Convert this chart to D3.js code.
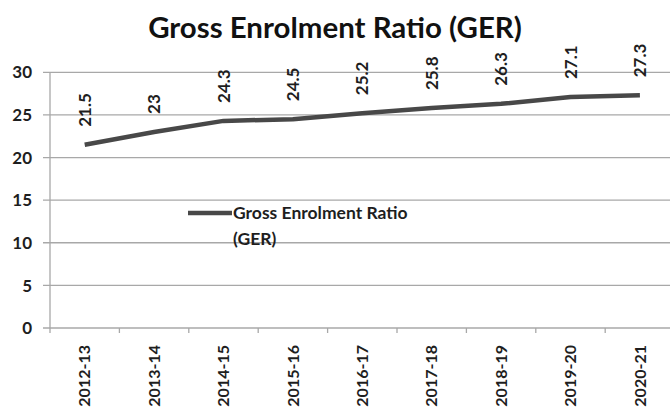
<!DOCTYPE html>
<html><head><meta charset="utf-8">
<script src="https://cdn.jsdelivr.net/npm/d3@7"></script>
<style>body{margin:0;background:#fff}svg{display:block}text{font-family:Lato,"Open Sans",sans-serif}</style>
</head><body>
<svg id="c" width="670" height="412"></svg>
<script>
const categories = ["2012-13","2013-14","2014-15","2015-16","2016-17","2017-18","2018-19","2019-20","2020-21"];
const gerValues = [21.5,23,24.3,24.5,25.2,25.8,26.3,27.1,27.3];
const yTicks = [0,5,10,15,20,25,30];
const title = "Gross Enrolment Ratio (GER)";
const seriesName = ["Gross Enrolment Ratio","(GER)"];

const svg = d3.select("#c");
const W = 670, H = 412;
const mLeft = 50, step = 69.4, mTop = 72.3, mBottom = 328;
const x = d3.scaleBand().domain(categories).range([mLeft, mLeft + step*categories.length]).padding(0);
const y = d3.scaleLinear().domain([0,30]).range([mBottom, mTop]);
const txt = "#1e1e1e", grid = "#a8a8a8";

// gridlines
svg.append("g").selectAll("line").data(yTicks).join("line")
  .attr("x1", mLeft - 7).attr("x2", W).attr("y1", d=>y(d)).attr("y2", d=>y(d))
  .attr("stroke", grid).attr("stroke-width", 1.3);

// y axis line
svg.append("line").attr("x1", mLeft).attr("x2", mLeft).attr("y1", mTop).attr("y2", mBottom)
  .attr("stroke", grid).attr("stroke-width", 1.3);

// y tick labels
svg.append("g").selectAll("text").data(yTicks).join("text")
  .attr("x", 32).attr("y", d=>y(d)).attr("dy", "0.36em").attr("text-anchor","end")
  .attr("font-size", 17).attr("font-weight", 700).attr("fill", txt).text(d=>d);

// x axis ticks at category boundaries
const bounds = categories.map(c=>x(c)).concat([x(categories[categories.length-1]) + x.bandwidth()]);
svg.append("g").selectAll("line").data(bounds).join("line")
  .attr("x1", d=>d).attr("x2", d=>d).attr("y1", mBottom).attr("y2", mBottom+5)
  .attr("stroke", grid).attr("stroke-width", 1.3);

// x labels
svg.append("g").selectAll("text").data(categories).join("text")
  .attr("transform", d=>`translate(${x(d)+x.bandwidth()/2},${mBottom+17}) rotate(-90)`)
  .attr("text-anchor","end").attr("dy","0.36em")
  .attr("font-size", 16).attr("font-weight", 700).attr("fill", txt).text(d=>d);

// line
const line = d3.line().x((d,i)=>x(categories[i])+x.bandwidth()/2).y(d=>y(d));
svg.append("path").datum(gerValues).attr("d", line)
  .attr("fill","none").attr("stroke","#484848").attr("stroke-width",4.5).attr("stroke-linejoin","round");

// data labels
svg.append("g").selectAll("text").data(gerValues).join("text")
  .attr("transform", (d,i)=>`translate(${x(categories[i])+x.bandwidth()/2},${y(d)-18}) rotate(-90)`)
  .attr("text-anchor","start").attr("dy","0.36em")
  .attr("font-size", 17).attr("font-weight", 700).attr("fill", txt).text(d=>d);

// legend
svg.append("line").attr("x1",188).attr("x2",232).attr("y1",213).attr("y2",213)
  .attr("stroke","#484848").attr("stroke-width",4.5);
svg.append("g").selectAll("text").data(seriesName).join("text")
  .attr("x",233).attr("y",(d,i)=>219+i*25.5)
  .attr("font-size",17.5).attr("font-weight",700).attr("fill",txt).text(d=>d);

// title
const t = svg.append("text").attr("x",335).attr("y",38).attr("text-anchor","middle")
  .attr("font-size",28).attr("font-weight",700).attr("fill","#111").text(title);
const tw = t.node().getComputedTextLength();
t.attr("font-size", 28*374/tw);
</script>
</body></html>
